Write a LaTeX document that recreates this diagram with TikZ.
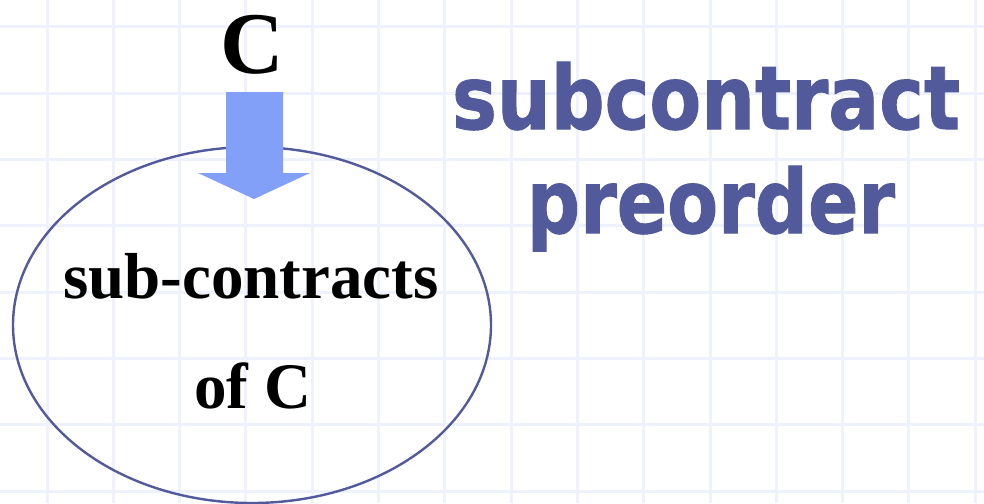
\documentclass[tikz,border=0pt]{standalone}
\usepackage{fontspec}
\usepackage{graphicx}
\usetikzlibrary{shapes.geometric}
\setmainfont{Liberation Serif}
\newfontfamily\titlefont{DejaVu Sans Bold}[FakeBold=1.2]
\definecolor{gridblue}{HTML}{EEF2FD}
\definecolor{slateblue}{HTML}{525A9C}
\definecolor{arrowblue}{HTML}{82A0F8}
\tikzset{
  gridline/.style={draw=gridblue, line width=3pt},
  setoval/.style={draw=slateblue, line width=2.4pt},
  serifbold/.style={inner sep=0pt, anchor=base, font=\bfseries\fontsize{65}{70}\selectfont},
  titleword/.style={inner sep=0pt, anchor=base, text=slateblue, font=\titlefont}
}
\begin{document}
\begin{tikzpicture}[x=1pt, y=-1pt]
  % page
  \fill[white] (0,0) rectangle (984,503);
  \useasboundingbox (0,0) rectangle (984,503);
  % squared paper
  \foreach \k in {0,...,14} {
    \draw[gridline] ({47+66.3*\k},0) -- ({47+66.3*\k},503);
  }
  \foreach \k in {0,...,7} {
    \draw[gridline] (0,{27+66.3*\k}) -- (984,{27+66.3*\k});
  }
  % the set of sub-contracts
  \node[setoval, ellipse, minimum width=478pt, minimum height=356pt, inner sep=0pt] (set) at (252,325) {};
  % arrow from C into the set
  \fill[arrowblue] (226,92) -- (283,92) -- (283,173) -- (310,173) -- (254,199)
    -- (198,173) -- (226,173) -- cycle;
  % labels
  \node[serifbold, font=\bfseries\fontsize{88}{96}\selectfont] (c) at (252,73) {C};
  \node[serifbold] (subs) at (251,298) {sub-contracts};
  \node[serifbold] (ofc) at (253,408) {of C};
  \node[titleword] (t1) at (706,129) {\resizebox{508pt}{67pt}{subcontract}};
  \node[titleword] (t2) at (711,233) {\resizebox{368pt}{67pt}{preorder}};
\end{tikzpicture}
\end{document}
